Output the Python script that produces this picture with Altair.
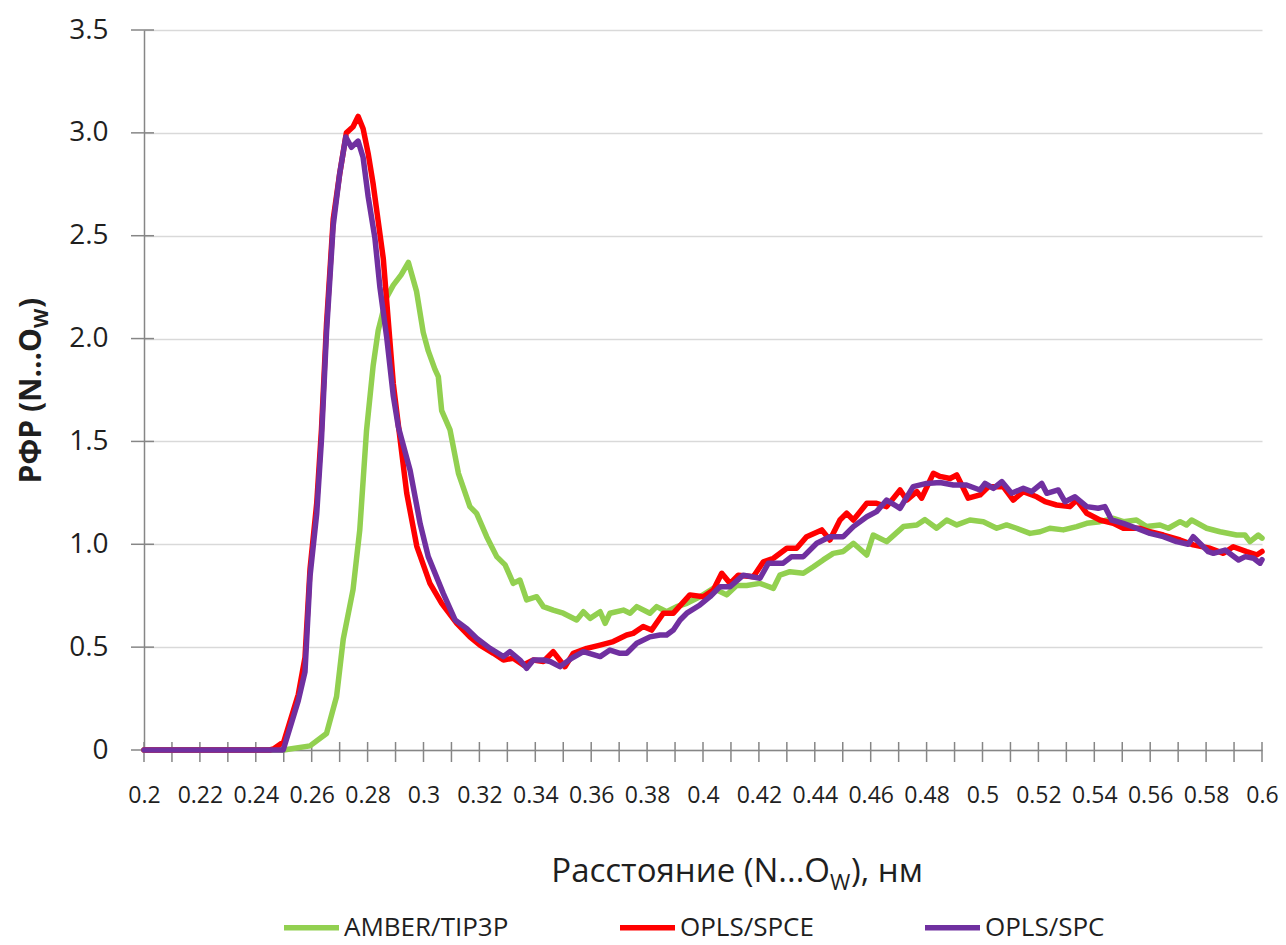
import altair as alt
import pandas as pd

# ---- data ----
series_names = ["AMBER/TIP3P", "OPLS/SPCE", "OPLS/SPC"]
series_colors = ["#92D050", "#FF0000", "#7030A0"]

amber_x = [0.200, 0.250, 0.2522, 0.2594, 0.2653, 0.2689, 0.2713, 0.2748, 0.2772, 0.2796, 0.2820, 0.2838, 0.2868, 0.2892, 0.2920, 0.2946, 0.2975, 0.2999, 0.3017, 0.3041, 0.3053, 0.3065, 0.3095, 0.3125, 0.3166, 0.3190, 0.3226, 0.3262, 0.3292, 0.3321, 0.3345, 0.3369, 0.3405, 0.3429, 0.3464, 0.3500, 0.3548, 0.3572, 0.3596, 0.3632, 0.3650, 0.3667, 0.3715, 0.3739, 0.3763, 0.3810, 0.3834, 0.3870, 0.3906, 0.3942, 0.3989, 0.4037, 0.4085, 0.4120, 0.4156, 0.4204, 0.4252, 0.4275, 0.4311, 0.4359, 0.4395, 0.4430, 0.4466, 0.4502, 0.4538, 0.4586, 0.4609, 0.4657, 0.4717, 0.4765, 0.4794, 0.4836, 0.4872, 0.4908, 0.4955, 0.5003, 0.5051, 0.5086, 0.5122, 0.5170, 0.5206, 0.5241, 0.5289, 0.5337, 0.5373, 0.5420, 0.5468, 0.5504, 0.5551, 0.5587, 0.5635, 0.5665, 0.5707, 0.5730, 0.5748, 0.5802, 0.5850, 0.5909, 0.5939, 0.5957, 0.5987, 0.6000]
amber_g = [0, 0, 0.005, 0.02, 0.08, 0.26, 0.54, 0.78, 1.07, 1.55, 1.87, 2.04, 2.20, 2.26, 2.31, 2.37, 2.23, 2.03, 1.94, 1.85, 1.815, 1.65, 1.556, 1.345, 1.183, 1.15, 1.037, 0.94, 0.90, 0.81, 0.826, 0.73, 0.745, 0.697, 0.68, 0.665, 0.632, 0.672, 0.64, 0.672, 0.616, 0.665, 0.68, 0.665, 0.697, 0.665, 0.697, 0.672, 0.697, 0.713, 0.745, 0.786, 0.754, 0.80, 0.80, 0.81, 0.786, 0.85, 0.867, 0.859, 0.891, 0.924, 0.956, 0.965, 1.005, 0.948, 1.045, 1.013, 1.086, 1.094, 1.12, 1.078, 1.118, 1.094, 1.118, 1.11, 1.078, 1.094, 1.078, 1.053, 1.061, 1.078, 1.07, 1.086, 1.102, 1.11, 1.126, 1.11, 1.118, 1.086, 1.094, 1.078, 1.11, 1.094, 1.118, 1.078, 1.061, 1.045, 1.045, 1.013, 1.045, 1.03]

spce_x = [0.200, 0.245, 0.2463, 0.2500, 0.2552, 0.2576, 0.2594, 0.2618, 0.2635, 0.2653, 0.2677, 0.2700, 0.2724, 0.2748, 0.2766, 0.2784, 0.2802, 0.2820, 0.2856, 0.2892, 0.2940, 0.2976, 0.3023, 0.3065, 0.3119, 0.3166, 0.3202, 0.3250, 0.3286, 0.3321, 0.3357, 0.3393, 0.3429, 0.3464, 0.3506, 0.3536, 0.3584, 0.3632, 0.3679, 0.3727, 0.3750, 0.3786, 0.3816, 0.3858, 0.3894, 0.3953, 0.4001, 0.4037, 0.4067, 0.4097, 0.4126, 0.4180, 0.4216, 0.4252, 0.4300, 0.4335, 0.4371, 0.4425, 0.4454, 0.4490, 0.4514, 0.4538, 0.4586, 0.4621, 0.4657, 0.4705, 0.4729, 0.4765, 0.4782, 0.4824, 0.4848, 0.4884, 0.4908, 0.4949, 0.4991, 0.5021, 0.5074, 0.5110, 0.5146, 0.5194, 0.5224, 0.5265, 0.5313, 0.5337, 0.5373, 0.5420, 0.5468, 0.5504, 0.5563, 0.5599, 0.5647, 0.5707, 0.5754, 0.5814, 0.5862, 0.5897, 0.5945, 0.5981, 0.6000]
spce_g = [0, 0, 0.005, 0.04, 0.27, 0.45, 0.88, 1.20, 1.56, 2.07, 2.58, 2.80, 3.00, 3.03, 3.08, 3.02, 2.90, 2.75, 2.39, 1.78, 1.248, 0.99, 0.81, 0.713, 0.616, 0.55, 0.51, 0.47, 0.4375, 0.446, 0.413, 0.4375, 0.43, 0.478, 0.405, 0.47, 0.494, 0.51, 0.527, 0.559, 0.567, 0.60, 0.583, 0.665, 0.665, 0.754, 0.745, 0.778, 0.859, 0.81, 0.85, 0.842, 0.915, 0.932, 0.981, 0.981, 1.037, 1.07, 1.021, 1.118, 1.151, 1.118, 1.199, 1.199, 1.183, 1.264, 1.215, 1.256, 1.224, 1.345, 1.33, 1.32, 1.337, 1.224, 1.24, 1.28, 1.28, 1.215, 1.256, 1.231, 1.207, 1.191, 1.183, 1.215, 1.151, 1.118, 1.102, 1.078, 1.078, 1.061, 1.045, 1.021, 0.997, 0.981, 0.956, 0.988, 0.964, 0.948, 0.965]

spc_x = [0.200, 0.2498, 0.2552, 0.2576, 0.2594, 0.2618, 0.2635, 0.2653, 0.2677, 0.2700, 0.2722, 0.2742, 0.2766, 0.2784, 0.2802, 0.2826, 0.2844, 0.2868, 0.2892, 0.2910, 0.2952, 0.2970, 0.2988, 0.3017, 0.3071, 0.3113, 0.3155, 0.3190, 0.3238, 0.3286, 0.3309, 0.3345, 0.3369, 0.3393, 0.3429, 0.3453, 0.3488, 0.3530, 0.3572, 0.3632, 0.3667, 0.3703, 0.3727, 0.3763, 0.3810, 0.3846, 0.3870, 0.3894, 0.3918, 0.3942, 0.3989, 0.4025, 0.4061, 0.4097, 0.4144, 0.4204, 0.4234, 0.4287, 0.4317, 0.4359, 0.4407, 0.4454, 0.4502, 0.4538, 0.4586, 0.4621, 0.4657, 0.4705, 0.4752, 0.4800, 0.4848, 0.4896, 0.4943, 0.4991, 0.5009, 0.5039, 0.5069, 0.5104, 0.5146, 0.5176, 0.5212, 0.5230, 0.5271, 0.5295, 0.5331, 0.5373, 0.5414, 0.5438, 0.5462, 0.5504, 0.5551, 0.5599, 0.5647, 0.5694, 0.5736, 0.5754, 0.5808, 0.5826, 0.5868, 0.5916, 0.5940, 0.5970, 0.5993, 0.6000]
spc_g = [0, 0, 0.24, 0.38, 0.845, 1.15, 1.51, 2.03, 2.55, 2.80, 2.98, 2.93, 2.96, 2.88, 2.69, 2.49, 2.25, 2.01, 1.72, 1.57, 1.36, 1.23, 1.10, 0.94, 0.76, 0.632, 0.59, 0.543, 0.494, 0.454, 0.478, 0.4375, 0.397, 0.4375, 0.4375, 0.43, 0.405, 0.446, 0.478, 0.454, 0.486, 0.47, 0.47, 0.519, 0.55, 0.559, 0.559, 0.583, 0.632, 0.665, 0.705, 0.745, 0.794, 0.794, 0.85, 0.835, 0.908, 0.908, 0.94, 0.94, 1.005, 1.037, 1.037, 1.086, 1.134, 1.159, 1.215, 1.175, 1.28, 1.296, 1.30, 1.288, 1.288, 1.264, 1.296, 1.272, 1.305, 1.248, 1.272, 1.256, 1.296, 1.248, 1.264, 1.207, 1.231, 1.183, 1.175, 1.183, 1.118, 1.102, 1.078, 1.053, 1.037, 1.013, 1.0, 1.037, 0.964, 0.956, 0.972, 0.924, 0.94, 0.932, 0.908, 0.925]

x_label_values = [0.2, 0.22, 0.24, 0.26, 0.28, 0.3, 0.32, 0.34, 0.36, 0.38, 0.4,
                  0.42, 0.44, 0.46, 0.48, 0.5, 0.52, 0.54, 0.56, 0.58, 0.6]
x_tick_values = [0.2, 0.21, 0.22, 0.23, 0.24, 0.25, 0.26, 0.27, 0.28, 0.29, 0.3,
                 0.31, 0.32, 0.33, 0.34, 0.35, 0.36, 0.37, 0.38, 0.39, 0.4,
                 0.41, 0.42, 0.43, 0.44, 0.45, 0.46, 0.47, 0.48, 0.49, 0.5,
                 0.51, 0.52, 0.53, 0.54, 0.55, 0.56, 0.57, 0.58, 0.59, 0.6]
y_tick_values = [0, 0.5, 1.0, 1.5, 2.0, 2.5, 3.0, 3.5]

x_title_main = "Расстояние (N...O"
x_title_sub = "W"
x_title_tail = "), нм"
y_title_main = "РФР (N...O"
y_title_sub = "W"
y_title_tail = ")"

# ---- build tables ----
rows = []
for name, xs, gs in [(series_names[0], amber_x, amber_g),
                     (series_names[1], spce_x, spce_g),
                     (series_names[2], spc_x, spc_g)]:
    for i, (xv, gv) in enumerate(zip(xs, gs)):
        rows.append({"series": name, "r": xv, "g": gv, "i": i})
df = pd.DataFrame(rows)

FONT = "Open Sans"
TXT = "#1f1f1f"
AX = "#868686"
W, H = 1118, 720

xscale = alt.Scale(domain=[0.2, 0.6], nice=False, zero=False)
yscale = alt.Scale(domain=[0, 3.5], nice=False, zero=True)
cscale = alt.Scale(domain=series_names, range=series_colors)

x_axis = alt.Axis(values=x_label_values, format="~g", title=None,
                  ticks=False, grid=False, domainColor=AX, domainWidth=1.5,
                  labelFont=FONT, labelFontSize=23, labelColor=TXT,
                  labelPadding=34, labelFlush=False, labelOverlap=False)
y_axis = alt.Axis(values=y_tick_values, title=None, ticks=False,
                  labelExpr="datum.value == 0 ? '0' : format(datum.value, '.1f')",
                  grid=True, gridColor="#D9D9D9", gridWidth=1.5,
                  domainColor=AX, domainWidth=1.5,
                  labelFont=FONT, labelFontSize=28, labelColor=TXT,
                  labelPadding=36)

legend = alt.Legend(orient="none", legendX=137, legendY=867, direction="horizontal",
                    title=None, symbolType="stroke", symbolStrokeWidth=5.5,
                    symbolSize=3025, labelFont=FONT, labelFontSize=26,
                    labelColor=TXT, labelOffset=2, labelLimit=500,
                    columnPadding=100, padding=0)

# tick marks (crossing the axis lines)
xt = alt.Chart(pd.DataFrame({"r": x_tick_values})).mark_rule(
    color=AX, strokeWidth=1.5).encode(
    x=alt.X("r:Q", scale=xscale, axis=x_axis),
    y=alt.value(H - 8), y2=alt.value(H + 12))
yt = alt.Chart(pd.DataFrame({"g": y_tick_values})).mark_rule(
    color=AX, strokeWidth=1.5).encode(
    y=alt.Y("g:Q", scale=yscale, axis=y_axis),
    x=alt.value(-13), x2=alt.value(10))

line_layers = []
for name in series_names:
    line_layers.append(
        alt.Chart(df).transform_filter(alt.datum.series == name)
        .mark_line(strokeWidth=5.5, strokeJoin="round", strokeCap="round")
        .encode(x=alt.X("r:Q", scale=xscale, axis=x_axis),
                y=alt.Y("g:Q", scale=yscale, axis=y_axis),
                color=alt.Color("series:N", scale=cscale, legend=legend),
                order="i:Q")
    )


def txt(label, x, y, size, bold=False, align="left", angle=0, baseline="alphabetic"):
    kw = dict(font=FONT, fontSize=size, color=TXT, align=align, baseline=baseline)
    if bold:
        kw["fontWeight"] = "bold"
    if angle:
        kw["angle"] = angle
    return alt.Chart(pd.DataFrame({"t": [label]})).mark_text(**kw).encode(
        text="t:N", x=alt.value(x), y=alt.value(y))


# axis titles with subscript (plot-area coordinates)
xw = 686
xtitle = [
    txt(x_title_main, xw, 852, 33, align="right"),
    txt(x_title_sub, xw, 860, 22, align="left"),
    txt(x_title_tail, xw + 21, 852, 33, align="left"),
]
yw = 298
ytitle = [
    txt(y_title_main, -103, yw, 30, bold=True, align="right", angle=270),
    txt(y_title_sub, -96, yw, 20, bold=True, align="left", angle=270),
    txt(y_title_tail, -103, yw - 20, 30, bold=True, align="left", angle=270),
]

chart = alt.layer(xt, yt, *line_layers, *xtitle, *ytitle).resolve_scale(
    color="shared").properties(
    width=W, height=H,
    autosize=alt.AutoSizeParams(type="none"),
    padding={"left": 144, "top": 30, "right": 24, "bottom": 195},
    background="white",
).configure_view(stroke=None)

chart.save("out.html", embed_options={"renderer": "svg", "actions": False})
